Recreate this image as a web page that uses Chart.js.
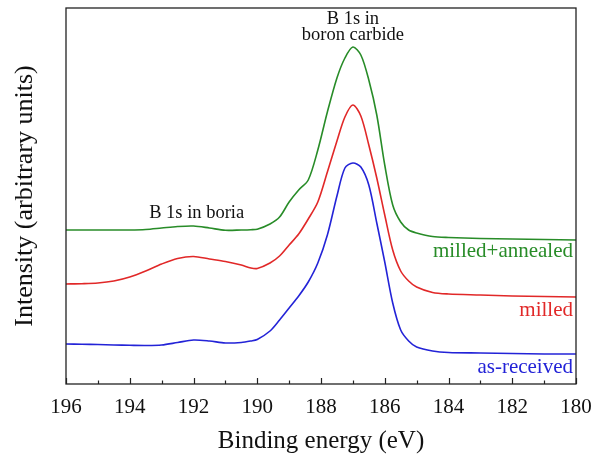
<!DOCTYPE html>
<html>
<head>
<meta charset="utf-8">
<script src="https://cdn.jsdelivr.net/npm/chart.js@4.4.1/dist/chart.umd.min.js"></script>
<style>
  html, body { margin: 0; padding: 0; background: #fff; }
  #c { display: block; }
</style>
</head>
<body>
<canvas id="c" width="591" height="457"></canvas>
<script>
// Binding energy (eV)
const energies = [196,195.5,195,194.5,194,193.5,193,192.5,192,191.5,191,190.5,190.2,190,189.6,189.3,189,188.7,188.4,188.1,187.8,187.5,187.25,187,186.75,186.5,186.25,186,185.75,185.5,185.25,185,184.5,184,183,182,181,180];
// Intensity (arbitrary units), curves as stacked in the figure
const asReceived = [40,39.8,39.5,39,38.7,38.5,39,41.5,44,43,41,41.5,43,44.5,53,64,76,88,102,121,149,188,216,221,217,199,161,122,81,54,43,37,33,31.5,31,30.5,30,30];
const milled = [100,100.3,101,103,107,113,120,125.5,127.5,125,122.5,119,116,115.5,121,128,139,150,165,182,212,243,267,279,268,239,206,169,134,113,103,97,91.5,90,89,88,87.5,87];
const milledAnnealed = [154,154,154,154,154,154.5,156,157.5,158,156,153.7,154,154.3,154.8,160,167,182,194,204,234,272,306,326,337,329,304,269,219,179,162,154,151,147.5,146.5,145.5,145,144.5,144];
const xTicks = [196,194,192,190,188,186,184,182,180];
const seriesNames = ['milled+annealed','milled','as-received'];

const GREEN = 'rgb(40,140,40)', RED = 'rgb(225,40,40)', BLUE = 'rgb(35,35,215)';
const SERIF = '"Liberation Serif", "Times New Roman", serif';

const toPts = arr => energies.map((e, i) => ({x: e, y: arr[i]}));

const framePlugin = {
  id: 'frame',
  afterDraw(chart) {
    const {ctx, chartArea: a, scales} = chart;
    const xs = scales.x;
    ctx.save();
    ctx.strokeStyle = '#222';
    ctx.lineWidth = 1.3;
    ctx.strokeRect(a.left, a.top, a.right - a.left, a.bottom - a.top);
    ctx.lineWidth = 1.2;
    for (let v = 180; v <= 196; v++) {
      const px = Math.round(xs.getPixelForValue(v)) + 0.5;
      const len = (v % 2 === 0) ? 6 : 3.5;
      ctx.beginPath();
      ctx.moveTo(px, a.bottom);
      ctx.lineTo(px, a.bottom - len);
      ctx.stroke();
    }
    ctx.textAlign = 'center';
    ctx.textBaseline = 'middle';
    ctx.fillStyle = '#111';
    ctx.font = '18.5px ' + SERIF;
    const cx = xs.getPixelForValue(187.0);
    ctx.fillText('B 1s in', cx, 19);
    ctx.fillText('boron carbide', cx, 35);
    ctx.fillText('B 1s in boria', xs.getPixelForValue(191.9), 213);
    ctx.textAlign = 'right';
    ctx.font = '21px ' + SERIF;
    const rx = a.right - 3;
    ctx.fillStyle = GREEN; ctx.fillText(seriesNames[0], rx, 251);
    ctx.fillStyle = RED; ctx.fillText(seriesNames[1], rx, 310);
    ctx.fillStyle = BLUE; ctx.fillText(seriesNames[2], rx, 367);
    ctx.restore();
  }
};

new Chart(document.getElementById('c'), {
  type: 'line',
  data: {
    datasets: [
      {label: seriesNames[0], data: toPts(milledAnnealed), borderColor: GREEN},
      {label: seriesNames[1], data: toPts(milled), borderColor: RED},
      {label: seriesNames[2], data: toPts(asReceived), borderColor: BLUE}
    ]
  },
  options: {
    responsive: false,
    animation: false,
    events: [],
    layout: {padding: {top: 8, right: 15, left: 0, bottom: 0}},
    elements: {
      line: {borderWidth: 1.6, tension: 0.3, fill: false},
      point: {radius: 0}
    },
    plugins: {legend: {display: false}, tooltip: {enabled: false}},
    scales: {
      x: {
        type: 'linear',
        reverse: true,
        min: 180, max: 196,
        afterBuildTicks: s => { s.ticks = xTicks.map(v => ({value: v})); },
        grid: {display: false, drawTicks: false},
        border: {display: false},
        ticks: {font: {family: SERIF, size: 21}, color: '#111', padding: 11, maxRotation: 0},
        title: {display: true, text: 'Binding energy (eV)', font: {family: SERIF, size: 25}, color: '#111', padding: {top: 0, bottom: 1}},
        afterFit: s => { s.height = 73; s.paddingLeft = 0; s.paddingRight = 0; }
      },
      y: {
        min: 0, max: 376,
        grid: {display: false, drawTicks: false},
        border: {display: false},
        ticks: {display: false},
        title: {display: true, text: 'Intensity (arbitrary units)', font: {family: SERIF, size: 26}, color: '#111', padding: {top: 10, bottom: 0}},
        afterFit: s => { s.width = 66; s.paddingTop = 0; s.paddingBottom = 0; }
      }
    }
  },
  plugins: [framePlugin]
});
</script>
</body>
</html>
